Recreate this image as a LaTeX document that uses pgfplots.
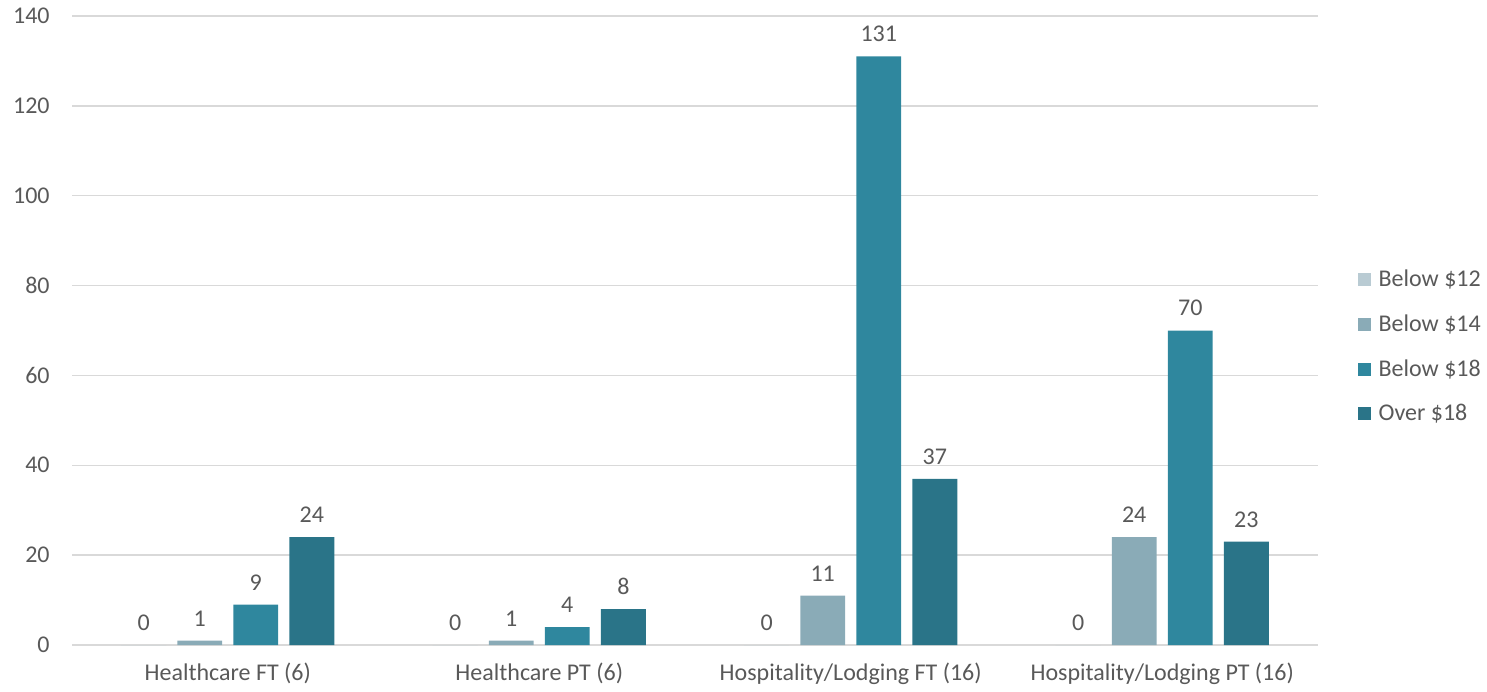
\documentclass[border=0pt]{standalone}
\usepackage{pgfplots}
\pgfplotsset{compat=1.18}
\usepackage{fontspec}
\setmainfont{Carlito}
\definecolor{cA}{HTML}{B9CBD3}
\definecolor{cB}{HTML}{8AABB7}
\definecolor{cC}{HTML}{2F879E}
\definecolor{cD}{HTML}{2A7488}
\definecolor{txt}{HTML}{595959}
\definecolor{grd}{HTML}{D9D9D9}
\begin{document}
\begin{tikzpicture}
\begin{axis}[
  scale only axis,
  width=623pt, height=314.5pt,
  xmin=-0.5, xmax=3.5,
  ymin=0, ymax=140,
  ytick={0,20,...,140},
  xtick={0,1,2,3},
  xticklabels={Healthcare FT (6),Healthcare PT (6),Hospitality/Lodging FT (16),Hospitality/Lodging PT (16)},
  axis line style={draw=none},
  major tick length=0pt,
  ymajorgrids,
  grid style={grd, line width=0.75pt},
  font=\fontsize{12pt}{14pt}\selectfont,
  tick label style={text=txt, font=\fontsize{12pt}{14pt}\selectfont},
  /pgf/number format/assume math mode=true,
  yticklabel style={inner sep=0pt, xshift=-11pt},
  xticklabel style={inner sep=0pt, yshift=-9pt},
  ybar, bar width=0.144,
  nodes near coords,
  every node near coord/.append style={text=txt, font=\fontsize{12pt}{14pt}\selectfont, inner sep=0pt, yshift=7pt},
  legend style={at={(1.0315,0.474)}, anchor=west, draw=none, fill=none, font=\fontsize{12pt}{14pt}\selectfont, text=txt, row sep=8.5pt, inner sep=0pt},
  legend cell align=left,
  legend image code/.code={\fill[#1] (0pt,-3.25pt) rectangle (6.5pt,3.25pt);},
  /tikz/every even column/.append style={column sep=0pt},
  /tikz/every odd column/.append style={column sep=2pt},
]
\addplot[fill=cA, draw=none, bar shift=-0.27] coordinates {(0,0) (1,0) (2,0) (3,0)};
\addplot[fill=cB, draw=none, bar shift=-0.09] coordinates {(0,1) (1,1) (2,11) (3,24)};
\addplot[fill=cC, draw=none, bar shift=0.09] coordinates {(0,9) (1,4) (2,131) (3,70)};
\addplot[fill=cD, draw=none, bar shift=0.27] coordinates {(0,24) (1,8) (2,37) (3,23)};
\legend{Below \$12,Below \$14,Below \$18,Over \$18}
\end{axis}
\path[use as bounding box] (-36pt,-23pt) rectangle (707.5pt,322.5pt);
\end{tikzpicture}
\end{document}
